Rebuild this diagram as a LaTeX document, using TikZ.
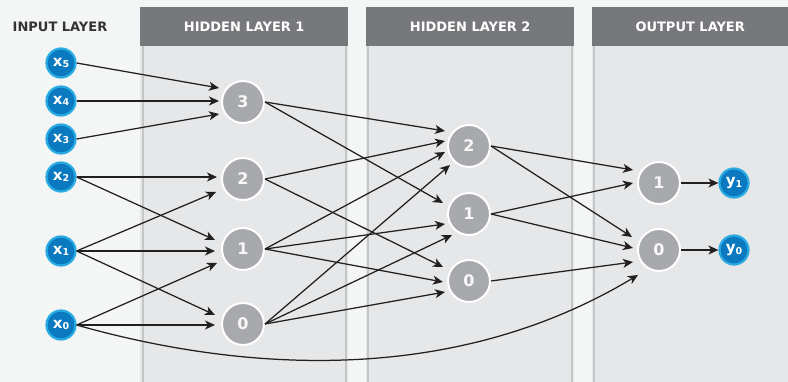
\documentclass[tikz,border=0pt]{standalone}
\usepackage{fontspec}
\setmainfont{DejaVu Sans}
\usetikzlibrary{arrows.meta}
\definecolor{bgC}{HTML}{F4F6F6}
\definecolor{panelC}{HTML}{E6E7E8}
\definecolor{hdrC}{HTML}{77787B}
\definecolor{bordC}{HTML}{C5C6C8}
\definecolor{blueC}{HTML}{0A79BF}
\definecolor{ringC}{HTML}{29ABE2}
\definecolor{grayC}{HTML}{A7A9AC}
\definecolor{lineC}{HTML}{231F20}
\definecolor{titleC}{HTML}{333333}
\newcommand{\subnum}[1]{\raisebox{-0.2ex}{\fontsize{9.5}{9.5}\selectfont #1}}
\begin{document}
\begin{tikzpicture}[x=1pt,y=-1pt,
 innode/.style={circle, fill=blueC, draw=ringC, line width=2.2pt, minimum size=29pt, inner sep=0pt, text=white, font=\bfseries\fontsize{15}{15}\selectfont},
 hnode/.style={circle, fill=grayC, draw=white, line width=2pt, minimum size=42pt, inner sep=0pt, text=white!92!grayC, font=\bfseries\fontsize{16}{16}\selectfont},
 hdr/.style={fill=hdrC, text=white, font=\bfseries\fontsize{13}{13}\selectfont, minimum height=39pt, inner sep=0pt, anchor=north west},
 panel/.style={fill=panelC},
 pborder/.style={draw=bordC, line width=2pt},
 arr/.style={draw=lineC, line width=1.25pt, -{Stealth[length=10pt,width=9pt,inset=2.8pt]}},
]
\useasboundingbox (0,0) rectangle (788,382);
\fill[bgC] (0,0) rectangle (788,382);
% panels
\fill[panel] (140,46) rectangle (348,382);
\fill[panel] (366,46) rectangle (574,382);
\fill[panel] (592,46) rectangle (788,382);
\draw[pborder] (143,46) -- (143,382);
\draw[pborder] (346,46) -- (346,382);
\draw[pborder] (368,46) -- (368,382);
\draw[pborder] (572,46) -- (572,382);
\draw[pborder] (594,46) -- (594,382);
% headers
\node[hdr, minimum width=208pt] (hd1) at (140,7) {HIDDEN LAYER 1};
\node[hdr, minimum width=208pt] (hd2) at (366,7) {HIDDEN LAYER 2};
\node[hdr, minimum width=196pt] (hd3) at (592,7) {OUTPUT LAYER};
\node[text=titleC, font=\bfseries\fontsize{13}{13}\selectfont] (hd0) at (60,26.5) {INPUT LAYER};
% input nodes
\node[innode] (x5) at (61,63) {x\subnum{5}};
\node[innode] (x4) at (61,101) {x\subnum{4}};
\node[innode] (x3) at (61,139) {x\subnum{3}};
\node[innode] (x2) at (61,177) {x\subnum{2}};
\node[innode] (x1) at (61,251) {x\subnum{1}};
\node[innode] (x0) at (61,325) {x\subnum{0}};
% hidden 1
\node[hnode] (h3) at (243,102) {3};
\node[hnode] (h2) at (243,179) {2};
\node[hnode] (h1) at (243,249) {1};
\node[hnode] (h0) at (243,324) {0};
% hidden 2
\node[hnode] (n2) at (469,146) {2};
\node[hnode] (n1) at (469,214) {1};
\node[hnode] (n0) at (469,281) {0};
% output
\node[hnode] (o1) at (659,183) {1};
\node[hnode] (o0) at (659,250) {0};
\node[innode] (y1) at (734,183) {y\subnum{1}};
\node[innode] (y0) at (734,250) {y\subnum{0}};
% input -> hidden 1
\draw[arr] (x5.east) -- ([shift={(-24,-14)}]h3.center);
\draw[arr] (x4.east) -- ([shift={(-24,-1)}]h3.center);
\draw[arr] (x3.east) -- ([shift={(-24,12)}]h3.center);
\draw[arr] (x2.east) -- ([shift={(-26,-2)}]h2.center);
\draw[arr] (x1.east) -- ([shift={(-27,13)}]h2.center);
\draw[arr] (x2.east) -- ([shift={(-28,-9)}]h1.center);
\draw[arr] (x1.east) -- ([shift={(-28,2)}]h1.center);
\draw[arr] (x0.east) -- ([shift={(-26,14)}]h1.center);
\draw[arr] (x1.east) -- ([shift={(-28,-9)}]h0.center);
\draw[arr] (x0.east) -- ([shift={(-28,1)}]h0.center);
% hidden 1 -> hidden 2
\draw[arr] (h3.east) -- ([shift={(-24,-15)}]n2.center);
\draw[arr] (h2.east) -- ([shift={(-24,-5)}]n2.center);
\draw[arr] (h1.east) -- ([shift={(-24,6)}]n2.center);
\draw[arr] (h0.east) -- ([shift={(-19,19)}]n2.center);
\draw[arr] (h3.east) -- ([shift={(-26,-11)}]n1.center);
\draw[arr] (h1.east) -- ([shift={(-24,10)}]n1.center);
\draw[arr] (h0.east) -- ([shift={(-17,21)}]n1.center);
\draw[arr] (h2.east) -- ([shift={(-26,-14)}]n0.center);
\draw[arr] (h1.east) -- ([shift={(-26,1)}]n0.center);
\draw[arr] (h0.east) -- ([shift={(-24,11)}]n0.center);
% hidden 2 -> output
\draw[arr] (n2.east) -- ([shift={(-26,-13)}]o1.center);
\draw[arr] (n1.east) -- ([shift={(-26,0)}]o1.center);
\draw[arr] (n2.east) -- ([shift={(-27,-13)}]o0.center);
\draw[arr] (n1.east) -- ([shift={(-26,-2)}]o0.center);
\draw[arr] (n0.east) -- ([shift={(-26,12)}]o0.center);
\draw[arr] (x0.east) .. controls (200,360) and (430,400) .. ([shift={(-21,25)}]o0.center);
% output -> y
\draw[arr] (o1.east) -- (y1.west);
\draw[arr] (o0.east) -- (y0.west);
\end{tikzpicture}
\end{document}
